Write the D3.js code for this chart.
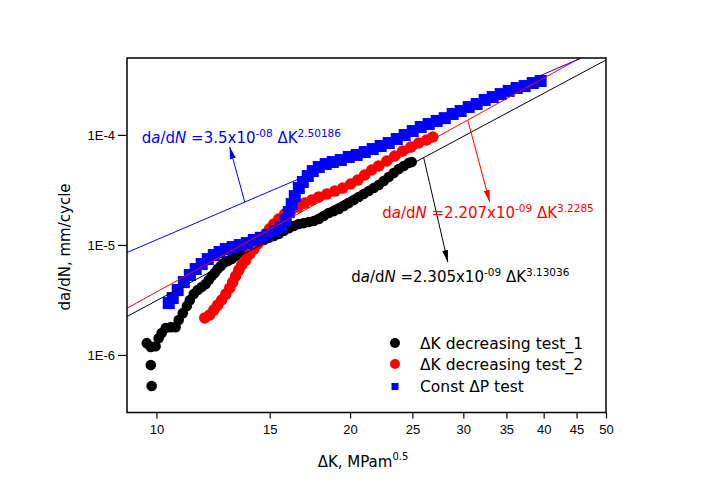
<!DOCTYPE html>
<html><head><meta charset="utf-8">
<script src="https://cdn.jsdelivr.net/npm/d3@7"></script>
<style>body{margin:0;background:#fff;} svg{display:block;font-family:"DejaVu Sans",sans-serif;}</style>
</head><body><svg id="c" width="704" height="495"></svg>
<script>
// ---- data ----
const blackK = [9.83,9.80,9.66,9.80,9.97,10.08,10.19,10.34,10.53,10.71,10.83,10.99,11.15,11.27,11.43,11.59,11.76,11.93,12.06,12.19,12.32,12.45,12.59,12.72,12.91,13.09,13.28,13.48,13.67,13.87,14.07,14.27,14.48,14.69,14.95,15.22,15.49,15.77,16.06,16.35,16.65,16.95,17.25,17.56,17.88,18.20,18.53,18.87,19.21,19.56,19.91,20.27,20.63,21.00,21.38,21.77,22.16,22.56,22.97,23.38,23.81,24.24,24.67,24.94];
const blackRate = [5.22e-7,8.09e-7,1.28e-6,1.18e-6,1.20e-6,1.42e-6,1.58e-6,1.76e-6,1.79e-6,1.79e-6,2.08e-6,2.40e-6,2.78e-6,3.15e-6,3.58e-6,3.89e-6,4.14e-6,4.41e-6,4.80e-6,5.22e-6,5.55e-6,6.04e-6,6.43e-6,6.85e-6,7.14e-6,7.44e-6,7.93e-6,8.44e-6,8.99e-6,9.57e-6,9.98e-6,1.04e-5,1.085e-5,1.11e-5,1.16e-5,1.205e-5,1.26e-5,1.34e-5,1.42e-5,1.485e-5,1.55e-5,1.58e-5,1.615e-5,1.65e-5,1.72e-5,1.83e-5,1.95e-5,2.03e-5,2.12e-5,2.26e-5,2.40e-5,2.56e-5,2.73e-5,2.90e-5,3.09e-5,3.29e-5,3.50e-5,3.81e-5,4.14e-5,4.50e-5,4.90e-5,5.22e-5,5.55e-5,5.67e-5];

const redK = [11.89,12.10,12.28,12.45,12.63,12.82,13.00,13.14,13.28,13.43,13.57,13.77,13.97,14.17,14.37,14.58,14.79,15.00,15.22,15.49,15.83,16.17,16.59,17.01,17.44,17.88,18.40,18.94,19.48,20.05,20.56,21.08,21.61,22.16,22.81,23.47,24.15,24.85,25.57,26.31,26.89];
const redRate = [2.17e-6,2.31e-6,2.56e-6,2.84e-6,3.16e-6,3.58e-6,4.06e-6,4.60e-6,5.22e-6,5.91e-6,6.57e-6,7.29e-6,8.27e-6,9.18e-6,1.02e-5,1.13e-5,1.26e-5,1.40e-5,1.55e-5,1.72e-5,1.91e-5,2.03e-5,2.21e-5,2.40e-5,2.56e-5,2.73e-5,2.90e-5,3.09e-5,3.29e-5,3.58e-5,3.89e-5,4.32e-5,4.80e-5,5.22e-5,5.79e-5,6.43e-5,7.14e-5,7.76e-5,8.44e-5,8.99e-5,9.57e-5];

const blueK = [10.45,10.60,10.79,11.03,11.27,11.51,11.76,12.02,12.28,12.54,12.82,13.14,13.48,13.82,14.17,14.53,14.90,15.27,15.61,15.89,16.06,16.23,16.41,16.65,16.89,17.19,17.50,17.88,18.33,18.80,19.35,19.91,20.48,21.08,21.69,22.32,22.97,23.64,24.32,25.03,25.76,26.50,27.27,28.07,28.88,29.72,30.58,31.47,32.39,33.33,34.29,35.29,36.31,37.37,38.46,39.57];
const blueRate = [2.96e-6,3.29e-6,3.89e-6,4.60e-6,5.33e-6,6.04e-6,6.71e-6,7.44e-6,8.09e-6,8.62e-6,9.18e-6,9.57e-6,9.98e-6,1.04e-5,1.11e-5,1.16e-5,1.23e-5,1.34e-5,1.46e-5,1.68e-5,1.99e-5,2.35e-5,2.78e-5,3.29e-5,3.73e-5,4.23e-5,4.69e-5,5.11e-5,5.44e-5,5.67e-5,5.91e-5,6.30e-5,6.57e-5,6.99e-5,7.44e-5,7.93e-5,8.44e-5,9.18e-5,9.98e-5,1.085e-4,1.18e-4,1.256e-4,1.34e-4,1.42e-4,1.55e-4,1.65e-4,1.79e-4,1.91e-4,2.08e-4,2.21e-4,2.35e-4,2.51e-4,2.67e-4,2.78e-4,2.96e-4,3.09e-4];

const seriesNames = ["\u0394K decreasing test_1","\u0394K decreasing test_2","Const \u0394P test"];
const seriesColors = ["#000000","#ff0000","#0000ff"];

// Paris-law fits: da/dN = C * dK^m
const fitCoef = [2.305e-9, 2.207e-9, 3.5e-8];
const fitExp = [3.13036, 3.2285, 2.50186];
const fitCoefText = ["2.305x10","2.207x10","3.5x10"];
const fitPowText = ["-09","-09","-08"];
const fitExpText = ["3.13036","3.2285","2.50186"];
// annotation anchors (data coordinates): text start, arrow start (on line), arrow head
const labelK = [20.08, 22.44, 9.49];
const labelRate = [4.63e-6, 1.745e-5, 8.44e-5];
const arrowFromK = [26.03, 30.48, 13.72];
const arrowToK = [28.38, 32.98, 13.00];
const arrowToRate = [6.99e-6, 2.45e-5, 7.76e-5];

const xTickValues = [10,15,20,25,30,35,40,45,50];
const yTickValues = [1e-6,1e-5,1e-4];
const yTickLabels = ["1E-6","1E-5","1E-4"];
const xDomain = [9,50];
const yDomain = [3e-7,5e-4];

// ---- drawing ----
const svg = d3.select("#c");
const L=127, R=606, T=58, B=412.5;
const x = d3.scaleLog().domain(xDomain).range([L,R]);
const y = d3.scaleLog().domain(yDomain).range([B,T]);

svg.append("rect").attr("width",704).attr("height",495).attr("fill","#fff");
svg.append("defs").append("clipPath").attr("id","clip")
  .append("rect").attr("x",L).attr("y",T).attr("width",R-L).attr("height",B-T);

// minor ticks
const xMinor = [];
for (let i=0;i<xTickValues.length-1;i++){
  const a=xTickValues[i], b=xTickValues[i+1];
  for (let k=1;k<9;k++) xMinor.push(a+(b-a)*k/9);
}
{ const step=(xTickValues[1]-xTickValues[0])/9; let v=xTickValues[0]-step; while(v>=xDomain[0]){xMinor.push(v); v-=step;} }
const yMinor = [];
for (let e=-7;e<=-4;e++) for (let m=2;m<=9;m++){ const v=m*Math.pow(10,e); if(v>=yDomain[0]-1e-12 && v<=yDomain[1]*1.0001) yMinor.push(v); }

const gx = svg.append("g").attr("transform",`translate(0,${B})`);
gx.call(d3.axisBottom(x).tickValues(xMinor).tickSize(4).tickFormat(""));
gx.call(d3.axisBottom(x).tickValues(xTickValues).tickSize(6).tickPadding(6).tickFormat(d3.format("d")));
gx.selectAll("text").style("font-size","13px").attr("fill","#000");

const gy = svg.append("g").attr("transform",`translate(${L},0)`);
gy.call(d3.axisLeft(y).tickValues(yMinor).tickSize(5).tickFormat(""));
gy.call(d3.axisLeft(y).tickValues(yTickValues).tickSize(9).tickPadding(3).tickFormat((d,i)=>yTickLabels[i]));
gy.selectAll("text").style("font-size","13px").attr("fill","#000");
svg.selectAll(".domain").remove();
svg.selectAll(".tick line").attr("stroke","#000").attr("stroke-width",1.2);

// data
const plot = svg.append("g").attr("clip-path","url(#clip)");
const blackPts = blackK.map((k,i)=>[k,blackRate[i]]);
const redPts = redK.map((k,i)=>[k,redRate[i]]);
const bluePts = blueK.map((k,i)=>[k,blueRate[i]]);
plot.append("g").selectAll("circle").data(blackPts).join("circle")
  .attr("cx",d=>x(d[0])).attr("cy",d=>y(d[1])).attr("r",5.3).attr("fill",seriesColors[0]);
plot.append("g").selectAll("circle").data(redPts).join("circle")
  .attr("cx",d=>x(d[0])).attr("cy",d=>y(d[1])).attr("r",5.8).attr("fill",seriesColors[1]);
const sq=12;
plot.append("g").selectAll("rect").data(bluePts).join("rect")
  .attr("x",d=>x(d[0])-sq/2).attr("y",d=>y(d[1])-sq/2).attr("width",sq).attr("height",sq).attr("fill",seriesColors[2]);

// fit lines
const line = d3.line().x(d=>x(d[0])).y(d=>y(d[1]));
fitCoef.forEach((c,i)=>{
  const pts = xDomain.map(k=>[k, c*Math.pow(k,fitExp[i])]);
  plot.append("path").attr("d",line(pts)).attr("fill","none").attr("stroke",seriesColors[i]).attr("stroke-width",1);
});

// frame
svg.append("rect").attr("x",L).attr("y",T).attr("width",R-L).attr("height",B-T)
  .attr("fill","none").attr("stroke","#000").attr("stroke-width",1.5);

// arrows
const defs = svg.select("defs");
seriesColors.forEach((col,i)=>{
  defs.append("marker").attr("id","ah"+i).attr("viewBox","0 0 12 8").attr("refX",12).attr("refY",4)
    .attr("markerWidth",12).attr("markerHeight",8).attr("markerUnits","userSpaceOnUse").attr("orient","auto")
    .append("path").attr("d","M0,1 L12,4 L0,7 Z").attr("fill",col);
});
fitCoef.forEach((c,i)=>{
  const k0=arrowFromK[i];
  svg.append("line").attr("x1",x(k0)).attr("y1",y(c*Math.pow(k0,fitExp[i])))
    .attr("x2",x(arrowToK[i])).attr("y2",y(arrowToRate[i]))
    .attr("stroke",seriesColors[i]).attr("stroke-width",1).attr("marker-end",`url(#ah${i})`);
});

// formula labels
fitCoef.forEach((c,i)=>{
  const t = svg.append("text").attr("x",x(labelK[i])).attr("y",y(labelRate[i]))
    .attr("fill",seriesColors[i]).style("font-size","15px");
  t.append("tspan").text("d");
  t.append("tspan").style("font-style","italic").text("a");
  t.append("tspan").text("/d");
  t.append("tspan").style("font-style","italic").text("N");
  t.append("tspan").text(" =" + fitCoefText[i]);
  t.append("tspan").attr("dy",-6).style("font-size","10.5px").text(fitPowText[i]);
  t.append("tspan").attr("dy",6).text(" \u0394K");
  t.append("tspan").attr("dy",-6).style("font-size","10.5px").text(fitExpText[i]);
});

// legend
const lg = svg.append("g");
const ly = [343, 364, 386.5];
seriesNames.forEach((n,i)=>{
  if (i<2) lg.append("circle").attr("cx",395).attr("cy",ly[i]).attr("r",5).attr("fill",seriesColors[i]);
  else lg.append("rect").attr("x",395-3.5).attr("y",ly[i]-3.5).attr("width",7).attr("height",7).attr("fill",seriesColors[i]);
  lg.append("text").attr("x",420).attr("y",ly[i]).attr("dy","0.36em").style("font-size","15.5px").attr("fill","#000").text(n);
});

// axis titles
const xt = svg.append("text").attr("x",363).attr("y",467).attr("text-anchor","middle").style("font-size","15px").attr("fill","#000");
xt.append("tspan").text("\u0394K, MPam");
xt.append("tspan").attr("dy",-7).style("font-size","10px").text("0.5");
svg.append("text").attr("transform","translate(70,247) rotate(-90)").attr("text-anchor","middle")
  .style("font-size","15px").attr("fill","#000").text("da/dN, mm/cycle");
</script></body></html>
